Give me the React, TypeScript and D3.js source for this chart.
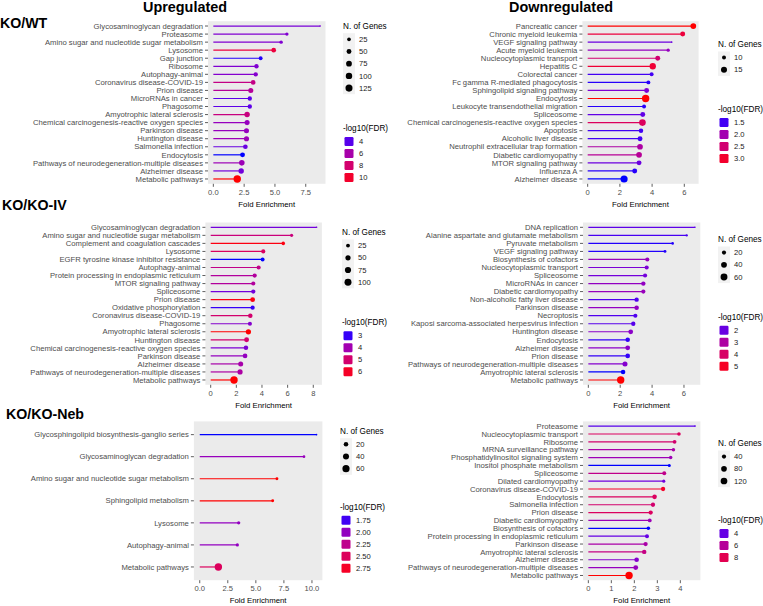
import React from 'react';
import * as d3 from 'd3';

// ---- KO/WT, upregulated ----
const wtUpTerms = [
  'Glycosaminoglycan degradation', 'Proteasome', 'Amino sugar and nucleotide sugar metabolism', 'Lysosome',
  'Gap junction', 'Ribosome', 'Autophagy-animal', 'Coronavirus disease-COVID-19', 'Prion disease',
  'MicroRNAs in cancer', 'Phagosome', 'Amyotrophic lateral sclerosis',
  'Chemical carcinogenesis-reactive oxygen species', 'Parkinson disease', 'Huntington disease',
  'Salmonella infection', 'Endocytosis', 'Pathways of neurodegeneration-multiple diseases',
  'Alzheimer disease', 'Metabolic pathways',
];
const wtUpFold = [8.67, 5.97, 5.5, 4.9, 3.84, 3.5, 3.44, 3.23, 3.04, 2.96, 2.96, 2.74, 2.74, 2.69, 2.69, 2.6, 2.37, 2.31, 2.26, 1.94];
const wtUpGenes = [8, 20, 22, 45, 28, 38, 38, 45, 55, 38, 38, 65, 55, 55, 58, 45, 50, 70, 65, 140];
const wtUpFdr = [4.6, 4.8, 4.8, 9.5, 3.5, 4.8, 4.9, 7.2, 6.6, 4.1, 4.1, 7.4, 5.4, 5.4, 5.6, 4.3, 3.4, 5.6, 4.5, 10.8];

// ---- KO/WT, downregulated ----
const wtDownTerms = [
  'Pancreatic cancer', 'Chronic myeloid leukemia', 'VEGF signaling pathway', 'Acute myeloid leukemia',
  'Nucleocytoplasmic transport', 'Hepatitis C', 'Colorectal cancer', 'Fc gamma R-mediated phagocytosis',
  'Sphingolipid signaling pathway', 'Endocytosis', 'Leukocyte transendothelial migration', 'Spliceosome',
  'Chemical carcinogenesis-reactive oxygen species', 'Apoptosis', 'Alcoholic liver disease',
  'Neutrophil extracellular trap formation', 'Diabetic cardiomyopathy', 'MTOR signaling pathway',
  'Influenza A', 'Alzheimer disease',
];
const wtDownFold = [6.56, 5.9, 5.22, 5.0, 4.35, 4.04, 3.97, 3.77, 3.66, 3.6, 3.5, 3.42, 3.4, 3.31, 3.25, 3.25, 3.19, 3.19, 2.92, 2.26];
const wtDownGenes = [14, 12, 8, 9, 12, 16, 10, 10, 12, 20, 10, 12, 17, 11, 12, 14, 14, 12, 12, 19];
const wtDownFdr = [3.2, 2.9, 1.65, 1.9, 2.5, 2.95, 1.5, 1.45, 1.75, 3.2, 1.45, 1.6, 2.65, 1.5, 1.5, 2.1, 2.2, 1.65, 1.45, 1.42];

// ---- KO/KO-IV, upregulated ----
const ivUpTerms = [
  'Glycosaminoglycan degradation', 'Amino sugar and nucleotide sugar metabolism',
  'Complement and coagulation cascades', 'Lysosome', 'EGFR tyrosine kinase inhibitor resistance',
  'Autophagy-animal', 'Protein processing in endoplasmic reticulum', 'MTOR signaling pathway', 'Spliceosome',
  'Prion disease', 'Oxidative phosphorylation', 'Coronavirus disease-COVID-19', 'Phagosome',
  'Amyotrophic lateral sclerosis', 'Huntington disease', 'Chemical carcinogenesis-reactive oxygen species',
  'Parkinson disease', 'Alzheimer disease', 'Pathways of neurodegeneration-multiple diseases', 'Metabolic pathways',
];
const ivUpFold = [8.26, 6.31, 5.66, 4.1, 4.05, 3.74, 3.43, 3.32, 3.32, 3.27, 3.27, 3.09, 3.06, 2.94, 2.8, 2.75, 2.68, 2.34, 2.29, 1.82];
const ivUpGenes = [8, 16, 20, 28, 25, 28, 30, 28, 30, 40, 30, 35, 28, 50, 42, 35, 38, 45, 48, 115];
const ivUpFdr = [3.4, 4.8, 6.2, 5.2, 2.9, 4.6, 4.3, 4.3, 3.4, 6.2, 3.0, 5.0, 3.6, 6.3, 5.0, 3.5, 3.8, 4.1, 4.2, 6.3];

// ---- KO/KO-IV, downregulated ----
const ivDownTerms = [
  'DNA replication', 'Alanine aspartate and glutamate metabolism', 'Pyruvate metabolism', 'VEGF signaling pathway',
  'Biosynthesis of cofactors', 'Nucleocytoplasmic transport', 'Spliceosome', 'MicroRNAs in cancer',
  'Diabetic cardiomyopathy', 'Non-alcoholic fatty liver disease', 'Parkinson disease', 'Necroptosis',
  'Kaposi sarcoma-associated herpesvirus infection', 'Huntington disease', 'Endocytosis', 'Alzheimer disease',
  'Prion disease', 'Pathways of neurodegeneration-multiple diseases', 'Amyotrophic lateral sclerosis',
  'Metabolic pathways',
];
const ivDownFold = [6.69, 6.17, 5.29, 4.81, 3.7, 3.66, 3.56, 3.45, 3.45, 3.03, 3.03, 2.95, 2.82, 2.66, 2.47, 2.47, 2.47, 2.3, 2.18, 2.03];
const ivDownGenes = [8, 9, 10, 11, 20, 20, 20, 22, 20, 22, 24, 20, 22, 26, 24, 27, 25, 30, 24, 70];
const ivDownFdr = [1.9, 1.75, 1.6, 1.6, 2.6, 2.2, 2.1, 2.5, 2.6, 1.8, 2.5, 1.8, 1.85, 2.4, 1.65, 2.4, 1.65, 2.3, 1.55, 5.3];

// ---- KO/KO-Neb, upregulated ----
const nebUpTerms = [
  'Glycosphingolipid biosynthesis-ganglio series', 'Glycosaminoglycan degradation',
  'Amino sugar and nucleotide sugar metabolism', 'Sphingolipid metabolism', 'Lysosome', 'Autophagy-animal',
  'Metabolic pathways',
];
const nebUpFold = [10.41, 9.29, 6.88, 6.5, 3.47, 3.35, 1.66];
const nebUpGenes = [4, 6, 7, 7, 9, 9, 65];
const nebUpFdr = [1.7, 2.02, 2.85, 2.85, 2.0, 2.0, 2.5];

// ---- KO/KO-Neb, downregulated ----
const nebDownTerms = [
  'Proteasome', 'Nucleocytoplasmic transport', 'Ribosome', 'MRNA surveillance pathway',
  'Phosphatidylinositol signaling system', 'Inositol phosphate metabolism', 'Spliceosome',
  'Dilated cardiomyopathy', 'Coronavirus disease-COVID-19', 'Endocytosis', 'Salmonella infection',
  'Prion disease', 'Diabetic cardiomyopathy', 'Biosynthesis of cofactors',
  'Protein processing in endoplasmic reticulum', 'Parkinson disease', 'Amyotrophic lateral sclerosis',
  'Alzheimer disease', 'Pathways of neurodegeneration-multiple diseases', 'Metabolic pathways',
];
const nebDownFold = [4.64, 3.94, 3.75, 3.7, 3.58, 3.52, 3.3, 3.28, 3.25, 2.88, 2.81, 2.71, 2.67, 2.61, 2.55, 2.49, 2.43, 2.1, 2.06, 1.77];
const nebDownGenes = [12, 28, 32, 26, 26, 20, 35, 22, 42, 48, 42, 42, 32, 28, 35, 42, 45, 50, 55, 150];
const nebDownFdr = [3.8, 7.6, 7.2, 5.6, 5.2, 3.3, 6.4, 4.2, 9.0, 7.6, 7.2, 7.6, 5.2, 3.3, 4.0, 5.6, 6.6, 4.6, 5.0, 9.6];

// axis ticks and legend breaks
const xTicksA = [0, 2.5, 5, 7.5];
const xTicksB = [0, 2, 4, 6];
const xTicksC = [0, 2, 4, 6, 8];
const xTicksD = [0, 2.5, 5, 7.5, 10];
const xTicksE = [0, 1, 2, 3, 4];

const panels = [
  { terms: wtUpTerms, fold: wtUpFold, genes: wtUpGenes, fdr: wtUpFdr, ticks: xTicksA, tickFmt: '.1f',
    sizeBreaks: [25, 50, 75, 100, 125], colorBreaks: [4, 6, 8, 10], colorFmt: 'd',
    left: 208, right: 325.5, top: 21.2, bottom: 183.8, lx: 343, sy: 26, cy: 128 },
  { terms: wtDownTerms, fold: wtDownFold, genes: wtDownGenes, fdr: wtDownFdr, ticks: xTicksB, tickFmt: 'd',
    sizeBreaks: [10, 15], colorBreaks: [1.5, 2, 2.5, 3], colorFmt: '.1f',
    left: 582.4, right: 698.6, top: 21.2, bottom: 183.8, lx: 718, sy: 44.3, cy: 109 },
  { terms: ivUpTerms, fold: ivUpFold, genes: ivUpGenes, fdr: ivUpFdr, ticks: xTicksC, tickFmt: 'd',
    sizeBreaks: [25, 50, 75, 100], colorBreaks: [3, 4, 5, 6], colorFmt: 'd',
    left: 205.4, right: 321.9, top: 222.5, bottom: 384.8, lx: 342, sy: 232.3, cy: 322.3 },
  { terms: ivDownTerms, fold: ivDownFold, genes: ivDownGenes, fdr: ivDownFdr, ticks: xTicksB, tickFmt: 'd',
    sizeBreaks: [20, 40, 60], colorBreaks: [2, 3, 4, 5], colorFmt: 'd',
    left: 583, right: 700.3, top: 222.5, bottom: 384.8, lx: 718, sy: 239.3, cy: 316.7 },
  { terms: nebUpTerms, fold: nebUpFold, genes: nebUpGenes, fdr: nebUpFdr, ticks: xTicksD, tickFmt: '.1f',
    sizeBreaks: [20, 40, 60], colorBreaks: [1.75, 2, 2.25, 2.5, 2.75], colorFmt: '.2f',
    left: 193.9, right: 322.4, top: 421.4, bottom: 580.2, lx: 340, sy: 431, cy: 506.7 },
  { terms: nebDownTerms, fold: nebDownFold, genes: nebDownGenes, fdr: nebDownFdr, ticks: xTicksE, tickFmt: 'd',
    sizeBreaks: [40, 80, 120], colorBreaks: [4, 6, 8], colorFmt: 'd',
    left: 583, right: 700.4, top: 421.4, bottom: 580.2, lx: 718, sy: 443.3, cy: 520 },
];

const FONT = '"Liberation Sans", Arial, Helvetica, sans-serif';
const PANEL_BG = '#ebebeb';
const AXIS_TEXT = '#4d4d4d';

type PanelSpec = typeof panels[number];

function Lollipop({ p }: { p: PanelSpec }) {
  const maxFold = d3.max(p.fold) as number;
  const x = d3.scaleLinear().domain([-0.05 * maxFold, 1.05 * maxFold]).range([p.left, p.right]);
  const y = d3.scalePoint<string>().domain(p.terms).range([p.top, p.bottom]).padding(0.6);

  const color = d3.scaleLinear<string>()
    .domain(d3.extent(p.fdr) as [number, number])
    .range(['blue', 'red'])
    .interpolate(d3.interpolateLab);

  // ggplot-style area scale: size = 1 + 5 * sqrt(t)
  const sizeT = d3.scaleLinear().domain(d3.extent(p.genes) as [number, number]).range([0, 1]).clamp(true);
  const radius = (g: number) => 0.8 + 2.9 * Math.sqrt(sizeT(g));

  const tickFmt = d3.format(p.tickFmt);
  const colorFmt = d3.format(p.colorFmt);
  const midX = (p.left + p.right) / 2;
  const keyX = p.lx + 6;

  return (
    <g>
      <rect x={p.left} y={p.top} width={p.right - p.left} height={p.bottom - p.top} fill={PANEL_BG} />

      {/* y axis */}
      {p.terms.map((t) => (
        <g key={t}>
          <line x1={p.left - 3} x2={p.left} y1={y(t)} y2={y(t)} stroke="#333" strokeWidth={0.8} />
          <text x={p.left - 5} y={y(t)} dy="0.35em" textAnchor="end" fontSize={7.7} fill={AXIS_TEXT}>{t}</text>
        </g>
      ))}

      {/* x axis */}
      {p.ticks.map((v) => (
        <g key={v}>
          <line x1={x(v)} x2={x(v)} y1={p.bottom} y2={p.bottom + 3} stroke="#333" strokeWidth={0.8} />
          <text x={x(v)} y={p.bottom + 8.6} dy="0.35em" textAnchor="middle" fontSize={7.6} fill={AXIS_TEXT}>{tickFmt(v)}</text>
        </g>
      ))}
      <text x={midX} y={p.bottom + 20.5} dy="0.35em" textAnchor="middle" fontSize={7.8} fill="#000">Fold Enrichment</text>

      {/* lollipops */}
      {p.terms.map((t, i) => (
        <g key={t}>
          <line x1={x(0)} x2={x(p.fold[i])} y1={y(t)} y2={y(t)} stroke={color(p.fdr[i])} strokeWidth={1.2} />
          <circle cx={x(p.fold[i])} cy={y(t)} r={radius(p.genes[i])} fill={color(p.fdr[i])} />
        </g>
      ))}

      {/* size legend */}
      <text x={p.lx} y={p.sy} dy="0.35em" fontSize={8.2} fill="#000">N. of Genes</text>
      <rect x={p.lx} y={p.sy + 13.3 - 6.1} width={12} height={p.sizeBreaks.length * 12.2} fill="#f2f2f2" />
      {p.sizeBreaks.map((b, i) => (
        <g key={b}>
          <circle cx={keyX} cy={p.sy + 13.3 + i * 12.2} r={radius(b)} fill="#000" />
          <text x={p.lx + 16} y={p.sy + 13.3 + i * 12.2} dy="0.35em" fontSize={7.6} fill="#1a1a1a">{b}</text>
        </g>
      ))}

      {/* colour legend */}
      <text x={p.lx} y={p.cy} dy="0.35em" fontSize={8.2} fill="#000">-log10(FDR)</text>
      {p.colorBreaks.map((b, i) => (
        <g key={b}>
          <rect x={keyX - 4.5} y={p.cy + 13.5 + i * 12 - 4.5} width={9} height={9} rx={1.2} fill={color(b)} />
          <text x={p.lx + 16} y={p.cy + 13.5 + i * 12} dy="0.35em" fontSize={7.6} fill="#1a1a1a">{colorFmt(b)}</text>
        </g>
      ))}
    </g>
  );
}

export default function App() {
  return (
    <svg width={763} height={606} style={{ position: 'absolute', left: 0, top: 0, background: '#fff' }} fontFamily={FONT}>
      <text x={185} y={12} textAnchor="middle" fontSize={14.4} fontWeight="bold">Upregulated</text>
      <text x={561} y={12} textAnchor="middle" fontSize={14.4} fontWeight="bold">Downregulated</text>
      <text x={0} y={28} fontSize={14.2} fontWeight="bold">KO/WT</text>
      <text x={2} y={210} fontSize={14.2} fontWeight="bold">KO/KO-IV</text>
      <text x={6} y={419} fontSize={14.2} fontWeight="bold">KO/KO-Neb</text>
      {panels.map((p, i) => <Lollipop key={i} p={p} />)}
    </svg>
  );
}
